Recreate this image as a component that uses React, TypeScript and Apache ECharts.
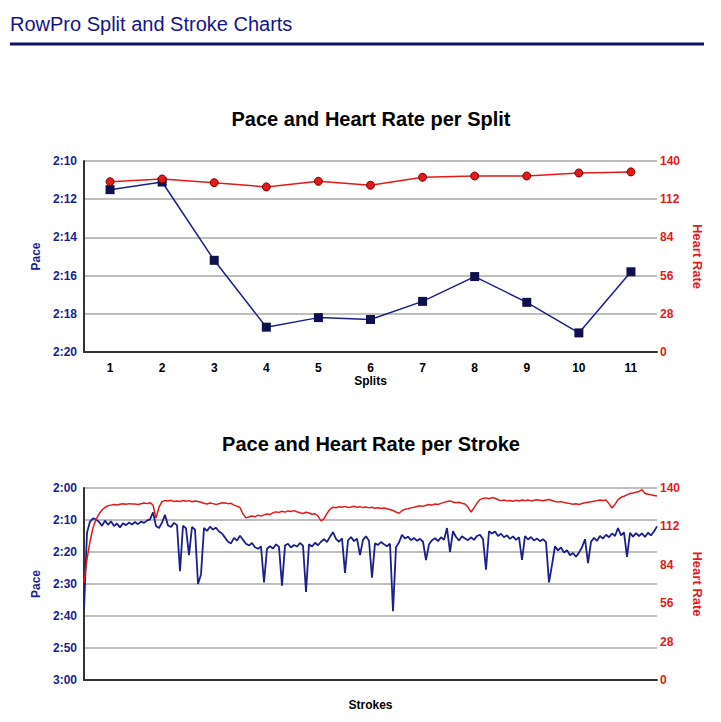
import React, { useEffect, useRef } from "react";
import * as echarts from "echarts";

const headerTitle = "RowPro Split and Stroke Charts";
const splitTitle = "Pace and Heart Rate per Split";
const strokeTitle = "Pace and Heart Rate per Stroke";

const splits = ["1", "2", "3", "4", "5", "6", "7", "8", "9", "10", "11"];
// pace in seconds per 500m (130 = 2:10)
const splitPace = [131.5, 131.1, 135.2, 138.7, 138.2, 138.3, 137.35, 136.05, 137.4, 139.0, 135.8];
const splitHeartRate = [124.8, 126.8, 124.1, 121.0, 125.1, 122.2, 128.1, 129.0, 129.0, 131.2, 132.0];

const strokePace = [
  158, 134, 130.5, 129.5, 129.8, 130.6, 131.8, 130.2, 131.5, 130.4,
  131.9, 131.1, 132.3, 131.0, 131.6, 130.8, 131.4, 130.6, 131.3, 130.5,
  130.9, 130.2, 129.8, 127.6, 131.9, 132.5, 130.8, 128.4, 131.7, 132.2,
  130.9, 131.6, 146.0, 131.8, 132.6, 141.0, 132.2, 133.0, 150.0, 147.0,
  132.5, 133.4, 132.1, 133.0, 132.4, 133.6, 134.2, 135.5, 136.8, 137.3,
  135.6, 136.4, 134.9, 136.2, 137.4, 138.0, 137.2, 138.5, 139.0, 138.3,
  149.5, 139.0, 138.2, 138.9, 137.6, 138.4, 150.5, 138.0, 137.4, 138.6,
  137.8, 138.3, 137.2, 138.0, 152.5, 137.6, 138.3, 137.1, 137.9, 136.8,
  136.0, 136.9, 135.2, 133.8, 135.9, 136.8, 135.7, 146.5, 136.4, 135.3,
  136.6, 135.8, 141.0, 136.2, 135.1, 136.5, 148.0, 137.3, 137.8, 136.9,
  137.6, 138.2, 137.4, 158.5, 138.5, 137.0, 134.6, 135.8, 135.2, 136.3,
  135.6, 136.5, 135.9, 136.8, 142.5, 137.6, 136.3, 135.7, 136.6, 135.4,
  136.2, 132.5, 140.0, 133.5, 135.3, 136.4, 135.1, 135.8, 136.3, 135.4,
  136.2, 135.0, 134.6, 136.0, 145.5, 133.5, 134.2, 133.6, 135.0, 134.3,
  135.4, 134.8, 135.9, 135.1, 136.2, 135.4, 142.5, 135.0, 136.1, 135.3,
  136.4, 135.8, 136.6, 136.0, 136.9, 149.5, 144.0, 138.2, 139.5, 138.6,
  140.2, 139.4, 141.0, 140.3, 141.5, 140.2, 138.5, 136.0, 143.5, 136.8,
  135.6, 136.5, 135.0, 135.8, 134.6, 135.4, 134.2, 135.0, 132.5, 134.8,
  133.9, 141.5, 134.0, 135.2, 134.1, 135.0, 134.2, 135.3, 134.0, 134.8,
  133.6, 132.0,
];

const strokeHeartRate = [
  71, 88, 101, 111, 117, 121, 124, 126, 127, 127.5,
  128, 127.6, 128.2, 128.5, 128.1, 128.6, 128.3, 128.4, 128.0, 128.5,
  129.0, 128.6, 129.3, 127.5, 118, 126, 130, 130.8, 130.5, 131.0,
  130.2, 130.6, 130.2, 130.9, 130.4, 130.8, 130.0, 130.5, 130.2, 129.6,
  128.9, 128.3, 129.0, 128.6, 128.0, 128.5, 129.2, 129.0, 128.6, 128.8,
  127.5, 126.8, 125.8, 121.0, 118.2, 118.8, 119.6, 119.0, 120.2, 119.5,
  120.4, 121.0, 120.6, 122.0, 122.6, 122.2, 123.0, 122.4, 123.3, 122.8,
  123.5, 122.7, 122.0, 121.4, 122.3, 121.8, 120.9, 121.2, 119.5, 116.0,
  117.5, 121.5, 124.5, 126.0, 125.6, 126.3, 126.0, 126.6, 125.8, 126.2,
  126.7, 125.9, 126.4, 125.7, 126.1, 125.5, 125.9, 125.2, 125.6, 125.0,
  125.4, 124.8, 124.3, 123.6, 122.5, 121.6, 123.4, 124.6, 124.9, 125.5,
  125.9, 126.5, 127.0, 126.6, 127.4, 127.9, 127.5, 128.3, 128.0, 128.8,
  129.5, 130.2, 130.6, 129.8, 129.2, 129.6, 128.9, 128.4, 126.0, 122.5,
  125.5, 129.0, 131.5, 132.4, 132.8, 132.2, 133.0, 132.5, 131.4, 130.8,
  131.2, 130.6, 130.9, 130.4, 131.0, 130.5, 131.3, 130.8, 131.2, 130.6,
  131.0, 131.5, 131.1, 130.7, 131.3, 131.6, 130.9, 130.2, 129.7, 130.1,
  129.5, 129.0, 128.6, 128.2, 128.5, 128.0, 128.7, 129.2, 129.6, 130.0,
  130.4, 130.8, 131.2, 130.9, 131.3, 128.6, 125.4, 128.0, 131.5, 133.2,
  134.0, 135.0, 136.0, 136.4, 136.9, 137.5, 138.8, 136.0, 135.5, 135.0,
  134.6, 134.2,
];

const strokes = strokePace.map((_, i) => String(i + 1));

const FONT = "'Liberation Sans', Arial, Helvetica, sans-serif";
const NAVY = "#1a1f8c";
const NAVY_DARK = "#0e1050";
const RED = "#e41a1a";
const GRID_COLOR = "#a8a8a8";

const fmtPace = (v: number) => {
  const m = Math.floor(v / 60);
  const s = Math.round(v - m * 60);
  return `${m}:${String(s).padStart(2, "0")}`;
};

export default function App() {
  const ref = useRef<HTMLDivElement>(null);

  useEffect(() => {
    if (!ref.current) return;
    const chart = echarts.init(ref.current, undefined, { renderer: "svg" });

    const paceAxisLabel = {
      color: NAVY,
      fontWeight: "bold" as const,
      fontSize: 12,
      fontFamily: FONT,
      margin: 7,
      formatter: (v: number) => fmtPace(v),
    };
    const hrAxisLabel = {
      color: RED,
      fontWeight: "bold" as const,
      fontSize: 12,
      fontFamily: FONT,
      margin: 3,
    };
    const paceName = { color: NAVY, fontWeight: "bold" as const, fontSize: 12, fontFamily: FONT };
    const hrName = { color: RED, fontWeight: "bold" as const, fontSize: 13, fontFamily: FONT };
    const xName = { color: "#000", fontWeight: "bold" as const, fontSize: 12, fontFamily: FONT };

    chart.setOption({
      animation: false,
      textStyle: { fontFamily: FONT },
      title: [
        {
          text: splitTitle,
          left: 366,
          top: 104,
          textAlign: "center",
          textStyle: { fontSize: 20, fontWeight: "bold", color: "#000", fontFamily: FONT },
        },
        {
          text: strokeTitle,
          left: 366,
          top: 429,
          textAlign: "center",
          textStyle: { fontSize: 20, fontWeight: "bold", color: "#000", fontFamily: FONT },
        },
      ],
      graphic: [
        {
          type: "text",
          left: 10,
          top: 14,
          style: { text: headerTitle, fontSize: 20, fill: "#14148a", fontFamily: FONT },
        },
        {
          type: "line",
          shape: { x1: 10, y1: 44, x2: 704, y2: 44 },
          style: { stroke: "#10106e", lineWidth: 3 },
        },
      ],
      grid: [
        { left: 84, right: 64, top: 161, height: 191 },
        { left: 84, right: 64, top: 488, height: 192 },
      ],
      xAxis: [
        {
          gridIndex: 0,
          type: "category",
          data: splits,
          boundaryGap: true,
          axisTick: { show: false },
          axisLine: { lineStyle: { color: "#333", width: 2 } },
          axisLabel: { color: "#000", fontWeight: "bold", fontSize: 12, fontFamily: FONT, margin: 10 },
          name: "Splits",
          nameLocation: "middle",
          nameGap: 23,
          nameTextStyle: xName,
        },
        {
          gridIndex: 1,
          type: "category",
          data: strokes,
          boundaryGap: false,
          axisTick: { show: false },
          axisLine: { lineStyle: { color: "#333", width: 2 } },
          axisLabel: { show: false },
          name: "Strokes",
          nameLocation: "middle",
          nameGap: 19,
          nameTextStyle: xName,
        },
      ],
      yAxis: [
        {
          gridIndex: 0,
          type: "value",
          inverse: true,
          min: 130,
          max: 140,
          interval: 2,
          axisLine: { show: true, lineStyle: { color: "#333", width: 2 } },
          axisTick: { show: false },
          splitLine: { lineStyle: { color: GRID_COLOR, width: 1.5 } },
          axisLabel: paceAxisLabel,
          name: "Pace",
          nameLocation: "middle",
          nameGap: 34,
          nameRotate: 90,
          nameTextStyle: paceName,
        },
        {
          gridIndex: 0,
          type: "value",
          position: "right",
          min: 0,
          max: 140,
          interval: 28,
          axisLine: { show: false },
          axisTick: { show: false },
          splitLine: { show: false },
          axisLabel: hrAxisLabel,
          name: "Heart Rate",
          nameLocation: "middle",
          nameGap: 33,
          nameRotate: -90,
          nameTextStyle: hrName,
        },
        {
          gridIndex: 1,
          type: "value",
          inverse: true,
          min: 120,
          max: 180,
          interval: 10,
          axisLine: { show: true, lineStyle: { color: "#333", width: 2 } },
          axisTick: { show: false },
          splitLine: { lineStyle: { color: GRID_COLOR, width: 1.5 } },
          axisLabel: paceAxisLabel,
          name: "Pace",
          nameLocation: "middle",
          nameGap: 34,
          nameRotate: 90,
          nameTextStyle: paceName,
        },
        {
          gridIndex: 1,
          type: "value",
          position: "right",
          min: 0,
          max: 140,
          interval: 28,
          axisLine: { show: false },
          axisTick: { show: false },
          splitLine: { show: false },
          axisLabel: hrAxisLabel,
          name: "Heart Rate",
          nameLocation: "middle",
          nameGap: 33,
          nameRotate: -90,
          nameTextStyle: hrName,
        },
      ],
      series: [
        {
          name: "Pace",
          type: "line",
          xAxisIndex: 0,
          yAxisIndex: 0,
          data: splitPace,
          symbol: "rect",
          symbolSize: 9,
          lineStyle: { color: NAVY, width: 1.5 },
          itemStyle: { color: NAVY_DARK, borderColor: NAVY_DARK, borderWidth: 0 },
        },
        {
          name: "Heart Rate",
          type: "line",
          xAxisIndex: 0,
          yAxisIndex: 1,
          data: splitHeartRate,
          symbol: "circle",
          symbolSize: 8,
          lineStyle: { color: RED, width: 1.5 },
          itemStyle: { color: RED, borderColor: "#7a0000", borderWidth: 1 },
        },
        {
          name: "Stroke Pace",
          type: "line",
          xAxisIndex: 1,
          yAxisIndex: 2,
          data: strokePace,
          showSymbol: false,
          symbol: "none",
          lineStyle: { color: NAVY, width: 1.8 },
        },
        {
          name: "Stroke Heart Rate",
          type: "line",
          xAxisIndex: 1,
          yAxisIndex: 3,
          data: strokeHeartRate,
          showSymbol: false,
          symbol: "none",
          lineStyle: { color: RED, width: 1.5 },
        },
      ],
    });

    return () => chart.dispose();
  }, []);

  return (
    <div
      ref={ref}
      style={{ position: "absolute", left: 0, top: 0, width: 721, height: 722, background: "#fff" }}
    />
  );
}
